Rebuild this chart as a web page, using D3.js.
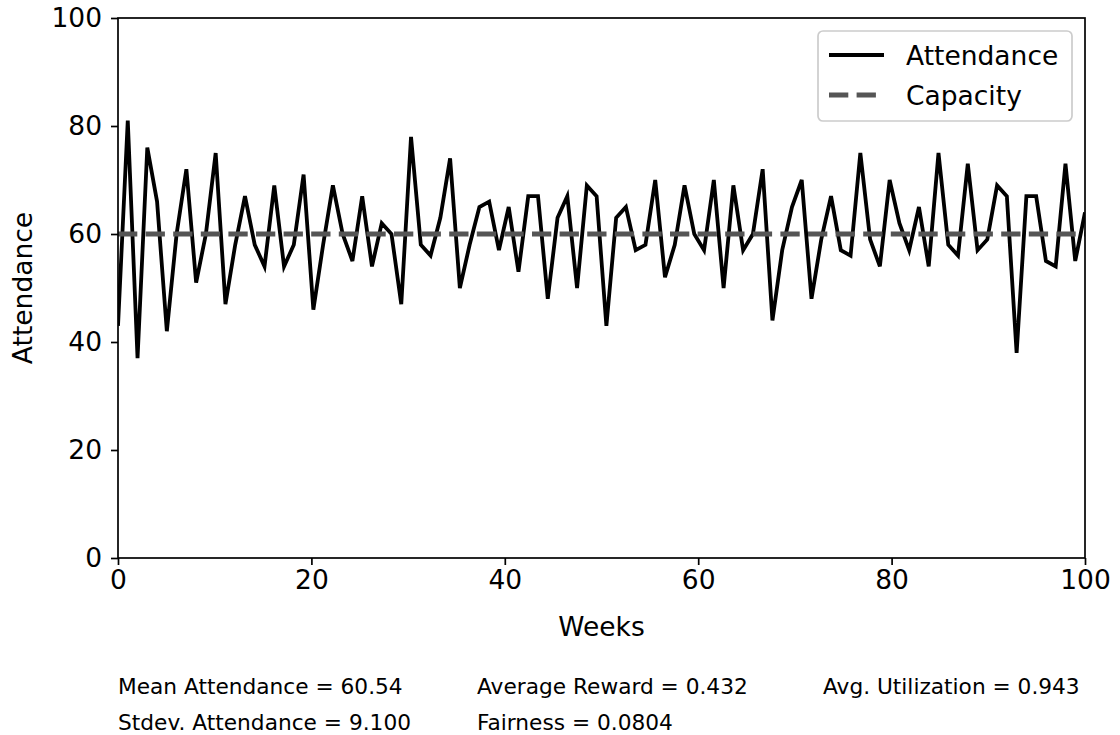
<!DOCTYPE html>
<html>
<head>
<meta charset="utf-8">
<script src="https://cdn.jsdelivr.net/npm/d3@7"></script>
<style>
  body { margin: 0; background: #fff; }
  svg { display: block; font-family: "DejaVu Sans", sans-serif; }
</style>
</head>
<body>
<div id="chart"></div>
<script>
// weekly attendance
var attendance = [
    43, 81, 37, 76, 66, 42, 60, 72, 51, 60,
    75, 47, 58, 67, 58, 54, 69, 54, 58, 71,
    46, 58, 69, 60, 55, 67, 54, 62, 60, 47,
    78, 58, 56, 63, 74, 50, 58, 65, 66, 57,
    65, 53, 67, 67, 48, 63, 67, 50, 69, 67,
    43, 63, 65, 57, 58, 70, 52, 58, 69, 60,
    57, 70, 50, 69, 57, 60, 72, 44, 57, 65,
    70, 48, 59, 67, 57, 56, 75, 59, 54, 70,
    62, 57, 65, 54, 75, 58, 56, 73, 57, 59,
    69, 67, 38, 67, 67, 55, 54, 73, 55, 64
];
var capacity = 60;
var xTicks = [0, 20, 40, 60, 80, 100];
var yTicks = [0, 20, 40, 60, 80, 100];
var legendLabels = ["Attendance", "Capacity"];
var statsRow1 = ["Mean Attendance = 60.54", "Average Reward = 0.432", "Avg. Utilization = 0.943"];
var statsRow2 = ["Stdev. Attendance = 9.100", "Fairness = 0.0804"];

var chart = function () {

    var width = 1120, height = 735;
    var pLeft = 118, pRight = 1085, pTop = 18, pBottom = 558;
    var fontSize = "26.5px";

    var svg = d3.select("#chart").append("svg")
        .attr("width", width)
        .attr("height", height);

    var x = d3.scaleLinear().domain([0, 100]).range([pLeft, pRight]);
    var y = d3.scaleLinear().domain([0, 100]).range([pBottom, pTop]);

    // weeks are spread evenly over 0..100
    var n = attendance.length;
    var points = attendance.map(function (d, i) {
        return { week: i * 100 / (n - 1), value: d };
    });

    svg.append("clipPath").attr("id", "plotClip")
        .append("rect")
        .attr("x", pLeft).attr("y", pTop)
        .attr("width", pRight - pLeft).attr("height", pBottom - pTop);

    var plot = svg.append("g").attr("clip-path", "url(#plotClip)");

    var line = d3.line()
        .x(function (d) { return x(d.week); })
        .y(function (d) { return y(d.value); });

    plot.append("path")
        .datum(points)
        .attr("d", line)
        .attr("fill", "none")
        .attr("stroke", "#000")
        .attr("stroke-width", 3.8)
        .attr("stroke-linejoin", "miter");

    plot.append("line")
        .attr("x1", x(0)).attr("x2", x(100))
        .attr("y1", y(capacity)).attr("y2", y(capacity))
        .attr("stroke", "#555555")
        .attr("stroke-width", 5)
        .attr("stroke-dasharray", "19.3,8.3");

    // axes
    var xAxis = svg.append("g")
        .attr("transform", "translate(0," + pBottom + ")")
        .call(d3.axisBottom(x).tickValues(xTicks).tickSize(7).tickPadding(5).tickFormat(d3.format("d")));
    var yAxis = svg.append("g")
        .attr("transform", "translate(" + pLeft + ",0)")
        .call(d3.axisLeft(y).tickValues(yTicks).tickSize(7).tickPadding(9).tickFormat(d3.format("d")));

    [xAxis, yAxis].forEach(function (ax) {
        ax.select(".domain").remove();
        ax.selectAll(".tick line").attr("stroke", "#000").attr("stroke-width", 1.7);
        ax.selectAll(".tick text")
            .attr("fill", "#000")
            .style("font-size", fontSize)
            .style("font-family", "DejaVu Sans");
    });

    svg.append("rect")
        .attr("x", pLeft).attr("y", pTop)
        .attr("width", pRight - pLeft).attr("height", pBottom - pTop)
        .attr("fill", "none")
        .attr("stroke", "#000")
        .attr("stroke-width", 1.7);

    // axis labels
    svg.append("text")
        .attr("x", (pLeft + pRight) / 2).attr("y", 626)
        .attr("text-anchor", "middle")
        .attr("dominant-baseline", "central")
        .style("font-size", fontSize)
        .text("Weeks");

    svg.append("text")
        .attr("transform", "translate(22," + (pTop + pBottom) / 2 + ") rotate(-90)")
        .attr("text-anchor", "middle")
        .attr("dominant-baseline", "central")
        .style("font-size", fontSize)
        .text("Attendance");

    // legend
    var legend = svg.append("g");
    legend.append("rect")
        .attr("x", 818).attr("y", 31)
        .attr("width", 254).attr("height", 90)
        .attr("rx", 5).attr("ry", 5)
        .attr("fill", "#fff").attr("fill-opacity", 0.8)
        .attr("stroke", "#cccccc").attr("stroke-width", 1.7);

    var legendStyles = [
        { stroke: "#000", width: 3.8, dash: null },
        { stroke: "#555555", width: 5, dash: "19.3,8.3" }
    ];
    legendLabels.forEach(function (label, i) {
        var ly = 55 + i * 40;
        legend.append("line")
            .attr("x1", 829).attr("x2", 884)
            .attr("y1", ly).attr("y2", ly)
            .attr("stroke", legendStyles[i].stroke)
            .attr("stroke-width", legendStyles[i].width)
            .attr("stroke-dasharray", legendStyles[i].dash);
        legend.append("text")
            .attr("x", 906).attr("y", ly)
            .attr("dominant-baseline", "central")
            .style("font-size", fontSize)
            .text(label);
    });

    // summary stats under the chart
    var statX = [118, 477, 823];
    var rows = [statsRow1, statsRow2];
    rows.forEach(function (row, r) {
        row.forEach(function (t, i) {
            svg.append("text")
                .attr("x", statX[i]).attr("y", 686 + r * 36)
                .attr("dominant-baseline", "central")
                .style("font-size", "21.7px")
                .text(t);
        });
    });
}();
</script>
</body>
</html>
